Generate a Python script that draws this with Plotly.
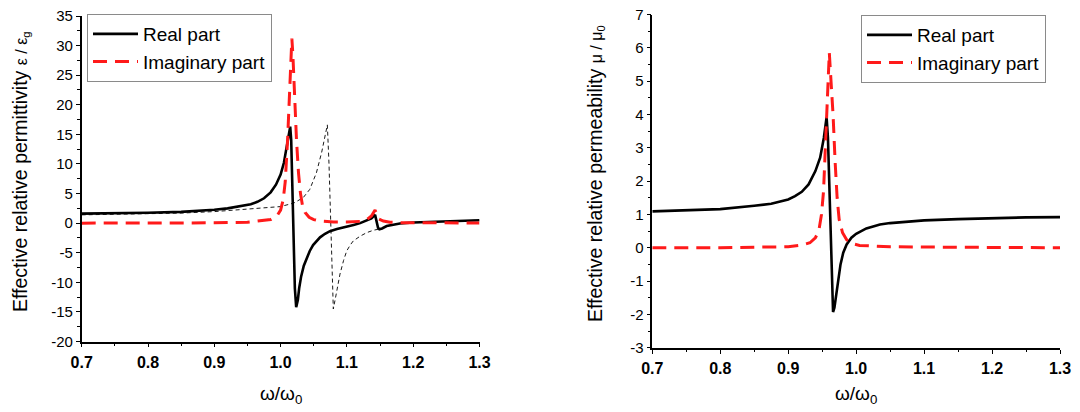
import plotly.graph_objects as go

# ---------------- data ----------------
# Left panel: effective relative permittivity
eps_re_w = [0.70, 0.75, 0.80, 0.85, 0.88, 0.90, 0.92, 0.94, 0.955, 0.965, 0.975, 0.985,
            0.993, 1.000, 1.005, 1.009, 1.012, 1.0145, 1.016, 1.018, 1.020, 1.0215, 1.0235,
            1.026, 1.028, 1.031, 1.035, 1.0395, 1.044, 1.049, 1.054, 1.0595, 1.067, 1.0745,
            1.085, 1.095, 1.110, 1.120, 1.130, 1.137, 1.1425, 1.1445, 1.147, 1.149, 1.153,
            1.160, 1.170, 1.180, 1.200, 1.220, 1.250, 1.280, 1.300]
eps_re = [1.6, 1.65, 1.75, 1.9, 2.05, 2.25, 2.5, 2.85, 3.2, 3.6, 4.2, 5.2,
          6.5, 8.2, 10.2, 12.8, 15.0, 16.3, 14.0, 5.0, -5.0, -11.0, -14.2,
          -13.0, -11.0, -9.0, -7.2, -5.8, -4.7, -3.7, -3.0, -2.4, -1.8, -1.35,
          -1.0, -0.75, -0.3, 0.0, 0.45, 0.8, 1.4, 0.4, -0.8, -1.05, -0.9,
          -0.5, -0.25, -0.05, 0.1, 0.2, 0.3, 0.4, 0.5]

eps_im_w = [0.70, 0.80, 0.90, 0.95, 0.97, 0.985, 0.995, 1.000, 1.004, 1.007, 1.0105,
            1.013, 1.0155, 1.017, 1.0185, 1.021, 1.024, 1.027, 1.030, 1.033, 1.037,
            1.043, 1.050, 1.060, 1.080, 1.100, 1.120, 1.130, 1.137, 1.1425, 1.145,
            1.148, 1.155, 1.165, 1.180, 1.200, 1.300]
eps_im = [0.0, 0.0, 0.05, 0.15, 0.35, 0.6, 1.3, 2.2, 4.0, 7.0, 14.0,
          21.0, 28.5, 31.2, 28.5, 21.0, 14.0, 8.5, 5.0, 3.0, 1.8,
          1.0, 0.6, 0.35, 0.2, 0.2, 0.3, 0.6, 1.2, 2.2, 1.5,
          0.7, 0.35, 0.15, 0.08, 0.05, 0.02]

# thin dashed reference curve (no legend entry)
eps_ref_w = [0.70, 0.75, 0.80, 0.85, 0.90, 0.95, 1.00, 1.02, 1.034, 1.044, 1.054, 1.062,
             1.067, 1.0705, 1.073, 1.0755, 1.078, 1.0795, 1.083, 1.0865, 1.0896, 1.095,
             1.0997, 1.105, 1.1097, 1.120, 1.130, 1.140, 1.149, 1.155, 1.160, 1.170,
             1.180, 1.200, 1.220, 1.250, 1.280, 1.300]
eps_ref = [1.4, 1.5, 1.6, 1.7, 1.95, 2.35, 2.8, 3.4, 4.3, 5.7, 8.5, 12.0,
           14.8, 16.6, 10.0, 1.5, -7.0, -14.5, -12.5, -10.0, -8.6, -6.3,
           -4.7, -3.7, -3.0, -2.2, -1.6, -1.2, -1.0, -0.85, -0.5, -0.25,
           -0.05, 0.1, 0.2, 0.3, 0.4, 0.5]

# Right panel: effective relative permeability
mu_re_w = [0.70, 0.75, 0.80, 0.85, 0.875, 0.90, 0.91, 0.92, 0.93, 0.94, 0.947, 0.9525,
           0.9565, 0.9585, 0.960, 0.9615, 0.963, 0.9645, 0.966, 0.968, 0.971, 0.974,
           0.977, 0.981, 0.986, 0.993, 1.000, 1.015, 1.035, 1.050, 1.100, 1.150,
           1.200, 1.250, 1.300]
mu_re = [1.09, 1.12, 1.16, 1.26, 1.32, 1.45, 1.55, 1.68, 1.9, 2.3, 2.7, 3.3,
         3.92, 3.3, 2.2, 1.0, -0.5, -1.5, -1.93, -1.8, -1.4, -0.9,
         -0.5, -0.15, 0.1, 0.3, 0.42, 0.58, 0.7, 0.74, 0.82, 0.86,
         0.89, 0.91, 0.92]

mu_im_w = [0.70, 0.80, 0.90, 0.92, 0.932, 0.94, 0.945, 0.949, 0.952, 0.955, 0.958,
           0.9605, 0.963, 0.966, 0.969, 0.972, 0.975, 0.980, 0.986, 0.995, 1.005,
           1.050, 1.100, 1.300]
mu_im = [0.0, 0.0, 0.03, 0.08, 0.15, 0.3, 0.5, 1.0, 1.7, 3.0, 4.6,
         5.85, 5.0, 4.0, 2.6, 1.5, 0.85, 0.45, 0.24, 0.12, 0.07,
         0.03, 0.02, 0.0]

# tick labels
x_ticks = [0.7, 0.8, 0.9, 1.0, 1.1, 1.2, 1.3]
x_tick_text = ["0.7", "0.8", "0.9", "1.0", "1.1", "1.2", "1.3"]
eps_ticks = [-20, -15, -10, -5, 0, 5, 10, 15, 20, 25, 30, 35]
eps_tick_text = ["-20", "-15", "-10", "-5", "0", "5", "10", "15", "20", "25", "30", "35"]
mu_ticks = [-3, -2, -1, 0, 1, 2, 3, 4, 5, 6, 7]
mu_tick_text = ["-3", "-2", "-1", "0", "1", "2", "3", "4", "5", "6", "7"]

# ---------------- figure ----------------
FONT = "Liberation Sans, Arial, sans-serif"
W, H = 1080, 412
OFF = 8  # page body margin offset of the rendered figure
RED = "#ff1a1a"


def px(x):
    """screen x pixel -> paper fraction"""
    return (x - OFF) / W


def py(y):
    """screen y pixel -> paper fraction"""
    return (H - (y - OFF)) / H


fig = go.Figure()

fig.add_trace(go.Scatter(x=eps_ref_w, y=eps_ref, mode="lines", showlegend=False,
                         line=dict(color="black", width=0.9, dash="4px,3px"),
                         xaxis="x", yaxis="y"))
fig.add_trace(go.Scatter(x=eps_re_w, y=eps_re, mode="lines", name="Real part",
                         line=dict(color="black", width=2.6), xaxis="x", yaxis="y",
                         legend="legend"))
fig.add_trace(go.Scatter(x=eps_im_w, y=eps_im, mode="lines", name="Imaginary part",
                         line=dict(color=RED, width=3, dash="14px,8px"),
                         xaxis="x", yaxis="y", legend="legend"))

fig.add_trace(go.Scatter(x=mu_re_w, y=mu_re, mode="lines", name="Real part",
                         line=dict(color="black", width=2.6), xaxis="x2", yaxis="y2",
                         legend="legend2"))
fig.add_trace(go.Scatter(x=mu_im_w, y=mu_im, mode="lines", name="Imaginary part",
                         line=dict(color=RED, width=3, dash="14px,8px"),
                         xaxis="x2", yaxis="y2", legend="legend2"))


def xax(domain, anchor):
    return dict(domain=domain, anchor=anchor, range=[0.7, 1.3], automargin=False,
                tickmode="array", tickvals=x_ticks,
                ticktext=["<b>%s</b>" % t for t in x_tick_text],
                ticks="outside", ticklen=4, tickwidth=1.3, tickcolor="black",
                ticklabelstandoff=1, ticklabeloverflow="allow",
                showline=True, linecolor="black", linewidth=1.6, showgrid=False,
                zeroline=False, mirror=False,
                tickfont=dict(family=FONT, size=16, color="black"),
                minor=dict(dtick=0.05, tick0=0.7, ticks="outside", ticklen=2.5,
                           tickwidth=1.2, tickcolor="black", showgrid=False))


def yax(domain, anchor, rng, vals, text, minor_dt):
    return dict(domain=domain, anchor=anchor, range=rng, automargin=False,
                tickmode="array", tickvals=vals, ticktext=text,
                ticks="outside", ticklen=4, tickwidth=1.3, tickcolor="black",
                ticklabeloverflow="allow",
                showline=True, linecolor="black", linewidth=1.6, showgrid=False,
                zeroline=False, mirror=False,
                tickfont=dict(family=FONT, size=15, color="black"),
                minor=dict(dtick=minor_dt, tick0=rng[0], ticks="outside", ticklen=2.5,
                           tickwidth=1.2, tickcolor="black", showgrid=False))


left_x = [px(81.7), px(479.5)]
right_x = [px(652.3), px(1060.0)]
left_y = [py(341.5), py(16.0)]
right_y = [py(347.7), py(14.5)]

legend_common = dict(bgcolor="white", bordercolor="#8a8a8a", borderwidth=1,
                     font=dict(family=FONT, size=19, color="black"),
                     xanchor="left", yanchor="top", tracegroupgap=0,
                     itemwidth=45)

fig.update_layout(
    template="none",
    width=W, height=H, autosize=False,
    margin=dict(l=0, r=0, t=0, b=0, pad=0),
    paper_bgcolor="white", plot_bgcolor="white",
    font=dict(family=FONT, color="black"),
    xaxis=xax(left_x, "y"),
    yaxis=yax(left_y, "x", [-20, 35], eps_ticks, eps_tick_text, 2.5),
    xaxis2=xax(right_x, "y2"),
    yaxis2=yax(right_y, "x2", [-3, 7], mu_ticks, mu_tick_text, 0.5),
    legend=dict(x=px(87), y=py(14), **legend_common),
    legend2=dict(x=px(861), y=py(15), **legend_common),
)

title_font = dict(family=FONT, size=19.5, color="black")
fig.add_annotation(text="Effective relative permittivity <span style='font-size:16px'>ε / ε<sub>g</sub></span>",
                   xref="paper", yref="paper", x=px(20), y=py(172),
                   textangle=-90, showarrow=False, font=title_font,
                   xanchor="center", yanchor="middle")
fig.add_annotation(text="Effective relative permeability <span style='font-size:16px'>μ / μ<sub>0</sub></span>",
                   xref="paper", yref="paper", x=px(595), y=py(174),
                   textangle=-90, showarrow=False, font=title_font,
                   xanchor="center", yanchor="middle")
for xc in [(left_x[0] + left_x[1]) / 2, (right_x[0] + right_x[1]) / 2]:
    fig.add_annotation(text="ω/ω<sub>0</sub>", xref="paper", yref="paper",
                       x=xc, y=py(395), showarrow=False,
                       font=dict(family=FONT, size=19, color="black"),
                       xanchor="center", yanchor="middle")

fig.write_html("out.html")
